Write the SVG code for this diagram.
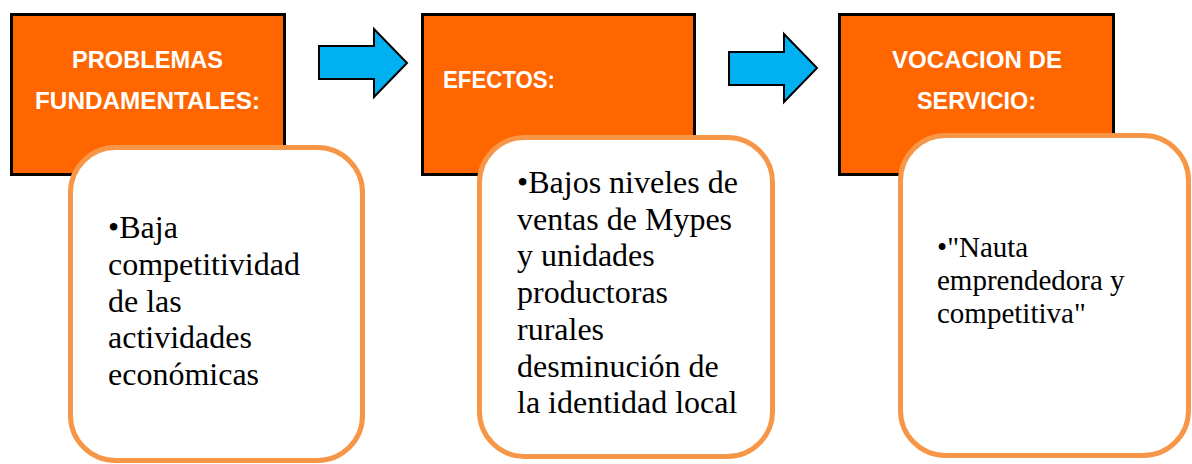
<svg xmlns="http://www.w3.org/2000/svg" width="1192" height="464" viewBox="0 0 1192 464">
<style>
.head{fill:#FF6600;stroke:#000;stroke-width:3}
.body{fill:#fff;stroke:#F79646;stroke-width:5}
.arrow{fill:#00B0F0;stroke:#000;stroke-width:2;stroke-linejoin:miter}
.t{font-family:"Liberation Sans",Arial,sans-serif;font-weight:bold;font-size:24px;fill:#fff}
.b{font-family:"Liberation Serif","Times New Roman",serif;font-size:32px;fill:#000}
.b3{font-family:"Liberation Serif","Times New Roman",serif;font-size:29px;fill:#000}
</style>
<rect width="1192" height="464" fill="#fff"/>
<g id="connectors">
<polygon class="arrow" points="319,46 374,46 374,29 407,63 374,97 374,79 319,79"/>
<polygon class="arrow" points="729,52 784,52 784,34 817,68 784,102 784,85 729,85"/>
</g>
<g id="node1">
<rect class="head" x="11.5" y="14.5" width="273" height="160"/>
<text class="t" x="72" y="68" textLength="151" lengthAdjust="spacingAndGlyphs">PROBLEMAS</text>
<text class="t" x="35" y="109" textLength="225" lengthAdjust="spacingAndGlyphs">FUNDAMENTALES:</text>
<rect class="body" x="70.5" y="147.5" width="292" height="313" rx="45"/>
<text class="b"><tspan x="108" y="238">•Baja</tspan><tspan x="108" y="275">competitividad</tspan><tspan x="108" y="312">de las</tspan><tspan x="108" y="348">actividades</tspan><tspan x="108" y="385">económicas</tspan></text>
</g>
<g id="node2">
<rect class="head" x="422.5" y="14.5" width="272" height="160"/>
<text class="t" x="443" y="88" textLength="112" lengthAdjust="spacingAndGlyphs">EFECTOS:</text>
<rect class="body" x="479.5" y="137.5" width="293" height="319" rx="45"/>
<text class="b"><tspan x="517" y="193">•Bajos niveles de</tspan><tspan x="517" y="230">ventas de Mypes</tspan><tspan x="517" y="266">y unidades</tspan><tspan x="517" y="303">productoras</tspan><tspan x="517" y="340">rurales</tspan><tspan x="517" y="377">desminución de</tspan><tspan x="517" y="413">la identidad local</tspan></text>
</g>
<g id="node3">
<rect class="head" x="839.5" y="14.5" width="274" height="160"/>
<text class="t" x="892" y="68" textLength="170" lengthAdjust="spacingAndGlyphs">VOCACION DE</text>
<text class="t" x="917" y="109" textLength="119" lengthAdjust="spacingAndGlyphs">SERVICIO:</text>
<rect class="body" x="900.5" y="135.5" width="288" height="320" rx="45"/>
<text class="b3"><tspan x="937" y="257">•"Nauta</tspan><tspan x="937" y="290">emprendedora y</tspan><tspan x="937" y="323">competitiva"</tspan></text>
</g>
</svg>
